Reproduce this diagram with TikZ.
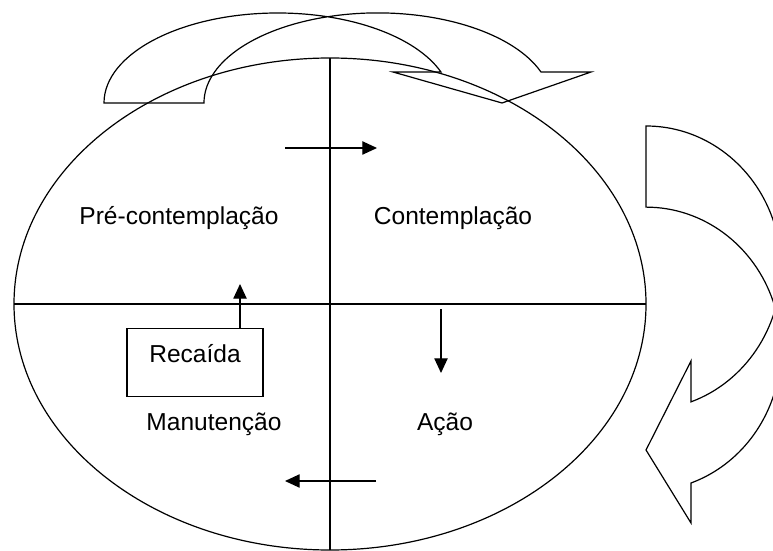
\documentclass[tikz,border=0pt]{standalone}
\usepackage{fontspec}
\setmainfont{Liberation Sans}
\usetikzlibrary{shapes.geometric,arrows.meta,positioning}

\begin{document}
\begin{tikzpicture}[x=0.75pt,y=0.75pt,line width=0.9pt,
        phase/.style={font=\fontsize{18.4}{22}\selectfont, anchor=base, inner sep=0pt},
        flow/.style={-{Triangle[length=11pt,width=10pt]}},
        bendarrow/.style={line join=miter}]
        \useasboundingbox (0,0) rectangle (773,550);
        \clip (0,0) rectangle (773,550);

        % Cycle ellipse split into four stages
        \node[draw, ellipse, minimum width=474pt, minimum height=369pt, inner sep=0pt, outer sep=0pt] (cycle) at (330,246) {};
        \draw (cycle.north) -- (cycle.south);
        \draw (cycle.west) -- (cycle.east);

        \node[phase] (precont) at (179,325) {Pré-contemplação};
        \node[phase] (cont) at (453,325) {Contemplação};
        \node[phase] (manut) at (214,120) {Manutenção};
        \node[phase] (acao) at (445,120) {Ação};
        \node[phase, draw, minimum width=102pt, text height=25pt, text depth=25.7pt] (recaida) at (195,188) {Recaída};

        % Stage to stage arrows
        \coordinate (c1) at (285,402);
        \coordinate (c2) at (377,402);
        \coordinate (c3) at (441,241);
        \coordinate (c4) at (441,177);
        \coordinate (c5) at (376,69);
        \coordinate (c6) at (285,69);
        \coordinate (relapse tip) at (240,266);
        \draw[flow] (c1) -- (c2);
        \draw[flow] (c3) -- (c4);
        \draw[flow] (c5) -- (c6);
        \draw[flow] (relapse tip |- recaida.north) -- (relapse tip);

        % Curved block arrows
        \draw[bendarrow] (104,447) arc[start angle=180, end angle=20.1, x radius=173.8, y radius=90]
            -- (393,478) -- (502,447) -- (591,478) -- (541,478)
            arc[start angle=20.1, end angle=180, x radius=173.8, y radius=90] -- cycle;
        \draw[bendarrow] (646,424) arc[start angle=90, end angle=-70.53, x radius=135, y radius=142]
            -- (691,189) -- (646,100) -- (691,27) -- (691,67)
            arc[start angle=-70.53, end angle=90, x radius=135, y radius=142] -- cycle;
\end{tikzpicture}
\end{document}
